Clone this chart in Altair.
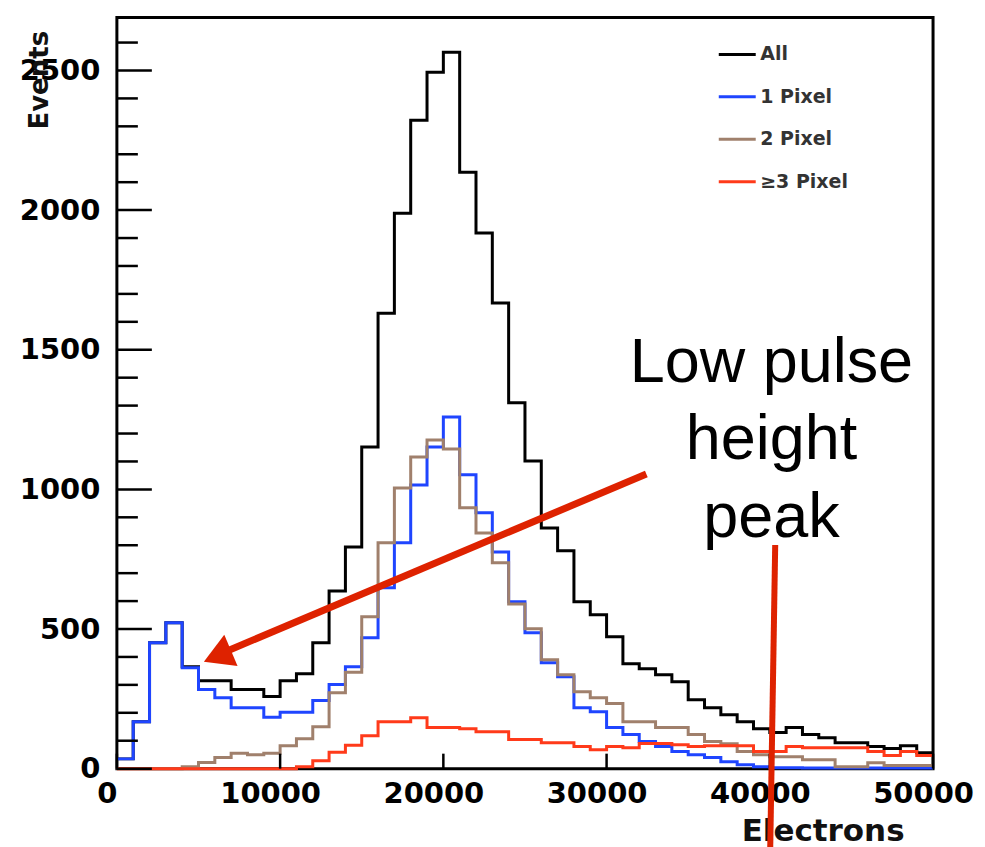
import altair as alt
import pandas as pd

# ---------------- data ----------------
bin_edges = list(range(0, 50001, 1000))          # 50 bins of 1000 electrons
series_names = ["All", "1 Pixel", "2 Pixel", "≥3 Pixel"]
series_colors = ["#000000", "#1f45ff", "#a0806c", "#ff3a1a"]

counts_all = [35, 168, 451, 522, 365, 315, 315, 283, 283, 258,
              315, 340, 451, 636, 794, 1152, 1631, 1989, 2322, 2494,
              2565, 2136, 1918, 1667, 1310, 1102, 862, 780, 598, 551,
              472, 376, 358, 336, 311, 247, 218, 193, 168, 143,
              129, 147, 122, 111, 93, 93, 79, 72, 82, 57]
counts_1px = [35, 168, 451, 522, 361, 283, 254, 218, 218, 184,
              202, 202, 244, 301, 365, 469, 648, 809, 1016, 1152,
              1259, 1052, 916, 776, 598, 487, 379, 329, 218, 204,
              147, 122, 97, 79, 61, 50, 40, 25, 14, 7,
              3, 3, 2, 2, 2, 2, 2, 2, 2, 2]
counts_2px = [0, 0, 0, 0, 7, 22, 40, 55, 50, 55,
              82, 107, 150, 272, 345, 544, 809, 1005, 1116, 1177,
              1145, 934, 844, 737, 590, 501, 390, 336, 275, 254,
              233, 168, 168, 147, 147, 122, 97, 89, 61, 50,
              43, 43, 32, 32, 7, 7, 21, 11, 11, 11]
counts_3px = [0, 0, 0, 0, 0, 0, 0, 0, 0, 0,
              0, 7, 28, 59, 84, 118, 168, 168, 182, 147,
              147, 143, 132, 132, 104, 104, 93, 93, 79, 68,
              79, 75, 90, 90, 86, 79, 82, 82, 82, 61,
              61, 79, 75, 75, 75, 75, 61, 47, 61, 47]

x_tick_values = [0, 10000, 20000, 30000, 40000, 50000]
y_tick_values = [0, 500, 1000, 1500, 2000, 2500]
y_minor_values = [v for v in range(100, 2700, 100) if v % 500 != 0]

# annotation (data coordinates)
note_lines = ["Low pulse", "height", "peak"]
note_x = [40100, 40100, 40100]
note_y = [1384, 1109, 830]
arrow_tail = (32436, 1055)
arrow_end = (6610, 418)
arrow_head = (6157, 403)
pointer_top = (40330, 801)
pointer_bottom = (40024, -290)

# ---------------- tables ----------------
rows = []
for name, counts in zip(series_names, [counts_all, counts_1px, counts_2px, counts_3px]):
    for i, c in enumerate(counts):
        rows.append({"series": name, "electrons": bin_edges[i], "events": c, "idx": i})
    rows.append({"series": name, "electrons": bin_edges[-1], "events": counts[-1], "idx": len(counts)})
df = pd.DataFrame(rows)

xscale = alt.Scale(domain=[0, 50000], nice=False, zero=False)
yscale = alt.Scale(domain=[0, 2690], nice=False, zero=False)

FONT_B = "DejaVu Sans"
RED = "#de2200"
XT = "Electrons"
YT = "Events"

hist = alt.Chart(df).mark_line(interpolate="step-after", strokeWidth=3, clip=False).encode(
    x=alt.X("electrons:Q", scale=xscale, title=XT,
            axis=alt.Axis(values=x_tick_values, format="d", labelFont=FONT_B, labelFontWeight="bold",
                          labelFontSize=29, labelColor="black", labelPadding=11, labelOffset=-10,
                          ticks=False, tickSize=0, domain=False, grid=False,
                          labelFlush=False, labelOverlap=False, labelBound=False,
                          titleFont=FONT_B, titleFontWeight="bold", titleFontSize=31, titleColor="#111",
                          titleX=788, titleY=72, titleAlign="right", titleBaseline="alphabetic",
                          titleAnchor="end")),
    y=alt.Y("events:Q", scale=yscale, title=YT,
            axis=alt.Axis(values=y_tick_values, format="d", labelFont=FONT_B, labelFontWeight="bold",
                          labelFontSize=29, labelColor="black", labelPadding=17,
                          ticks=False, tickSize=0, domain=False, grid=False,
                          labelFlush=False, labelOverlap=False, labelBound=False,
                          titleFont=FONT_B, titleFontWeight="bold", titleFontSize=26, titleColor="#111",
                          titleAngle=270, titleX=-77, titleY=13, titleAlign="right",
                          titleBaseline="middle", titleAnchor="end")),
    color=alt.Color("series:N", sort=series_names,
                    scale=alt.Scale(domain=series_names, range=series_colors),
                    legend=alt.Legend(orient="none", legendX=601, legendY=17, direction="vertical",
                                      title=None, symbolType="stroke", symbolSize=1369,
                                      symbolStrokeWidth=3, labelFont=FONT_B, labelFontWeight="bold",
                                      labelFontSize=19, labelColor="#333", labelOffset=3,
                                      rowPadding=12.5, padding=0)),
    order=alt.Order("idx:Q"),
)

ymaj = alt.Chart(pd.DataFrame({"v": y_tick_values})).mark_rule(color="black", strokeWidth=2.5).encode(
    y=alt.Y("v:Q", scale=yscale, title=YT), x=alt.value(0), x2=alt.value(35))
ymin = alt.Chart(pd.DataFrame({"v": y_minor_values})).mark_rule(color="black", strokeWidth=2.5).encode(
    y=alt.Y("v:Q", scale=yscale, title=YT), x=alt.value(0), x2=alt.value(21))
xmaj = alt.Chart(pd.DataFrame({"v": x_tick_values})).mark_rule(color="black", strokeWidth=2.5).encode(
    x=alt.X("v:Q", scale=xscale, title=XT), y=alt.value(752), y2=alt.value(737))

lines_df = pd.DataFrame({
    "x": [arrow_tail[0], pointer_top[0]], "y": [arrow_tail[1], pointer_top[1]],
    "x2": [arrow_end[0], pointer_bottom[0]], "y2": [arrow_end[1], pointer_bottom[1]],
    "w": [7, 6]})
arrows = alt.Chart(lines_df).mark_rule(color=RED, strokeCap="butt", clip=False).encode(
    x=alt.X("x:Q", scale=xscale, title=XT), y=alt.Y("y:Q", scale=yscale, title=YT),
    x2="x2:Q", y2="y2:Q",
    strokeWidth=alt.StrokeWidth("w:Q", scale=None, legend=None))

head = alt.Chart(pd.DataFrame({"x": [arrow_head[0]], "y": [arrow_head[1]]})).mark_point(
    shape="triangle-up", filled=True, size=1156, angle=247, color=RED, opacity=1, clip=False).encode(
    x=alt.X("x:Q", scale=xscale, title=XT), y=alt.Y("y:Q", scale=yscale, title=YT))

note = alt.Chart(pd.DataFrame({"t": note_lines, "x": note_x, "y": note_y})).mark_text(
    font="Liberation Sans", fontSize=63, align="center", baseline="alphabetic", color="black").encode(
    x=alt.X("x:Q", scale=xscale, title=XT), y=alt.Y("y:Q", scale=yscale, title=YT), text="t:N")

chart = alt.layer(hist, ymaj, ymin, xmaj, note, arrows, head).properties(
    width=817, height=752,
    autosize=alt.AutoSizeParams(type="none"),
    padding={"left": 109, "top": 9, "right": 44, "bottom": 78},
    background="white",
).configure_view(stroke="black", strokeWidth=3)

chart.save("out.html", embed_options={"renderer": "svg", "actions": False})
